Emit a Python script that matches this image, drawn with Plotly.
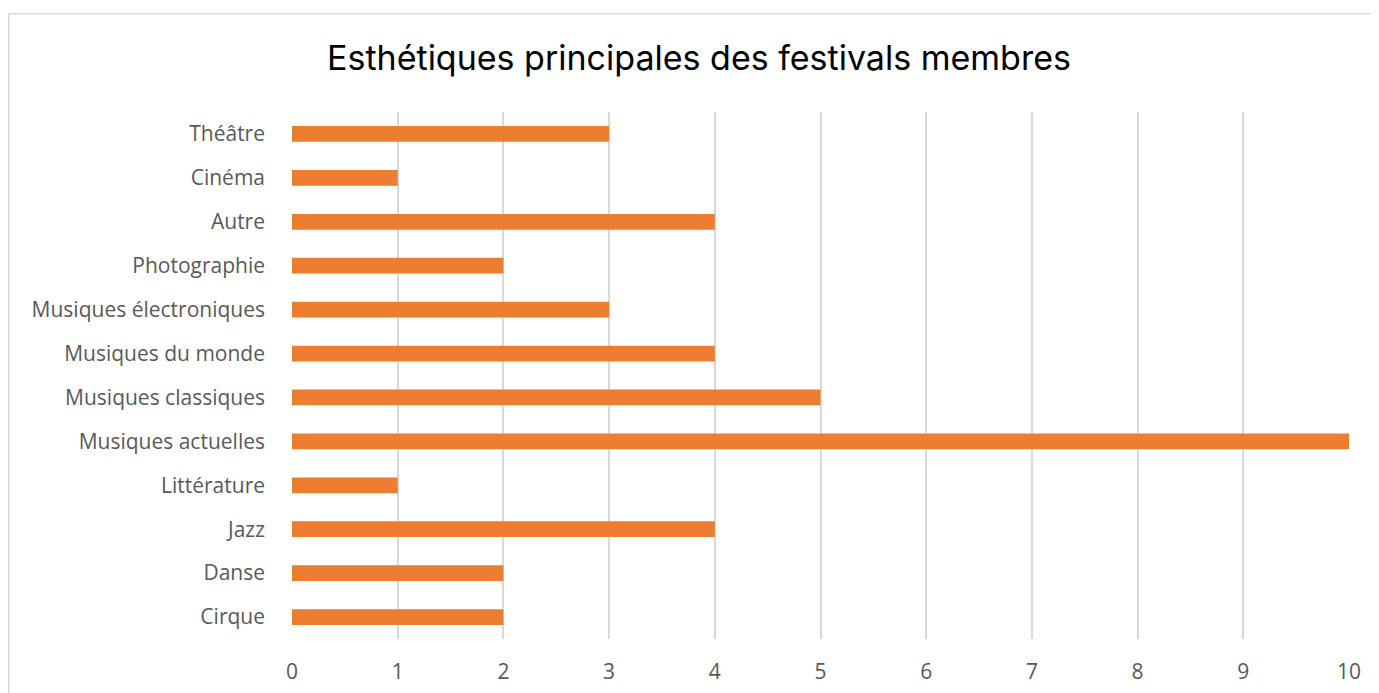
import plotly.graph_objects as go

categories = ["Cirque", "Danse", "Jazz", "Littérature", "Musiques actuelles",
              "Musiques classiques", "Musiques du monde", "Musiques électroniques",
              "Photographie", "Autre", "Cinéma", "Théâtre"]
values = [2, 2, 4, 1, 10, 5, 4, 3, 2, 4, 1, 3]
x_ticks = list(range(0, 11))

# page body has an 8px margin; figure coordinates are screen - 8
W, H = 1371, 685
L, R, T, B = 284, 30, 104, 54
pw, ph = W - L - R, H - T - B

fig = go.Figure(go.Bar(
    x=values, y=categories, orientation="h",
    marker=dict(color="#ED7D31", line=dict(width=0)),
    width=0.36,
))

def px_to_paper_x(px):
    return (px - L) / pw

def px_to_paper_y(py):
    return (H - B - py) / ph

fig.update_layout(
    width=W, height=H,
    margin=dict(l=L, r=R, t=T, b=B, autoexpand=False),
    paper_bgcolor="white", plot_bgcolor="white",
    showlegend=False,
    title=dict(text="Esthétiques principales des festivals membres",
               x=(699 - 8) / W, xanchor="center", y=1 - 50 / H, yanchor="middle",
               font=dict(family="Inter, Roboto, sans-serif", size=34, color="#000000")),
    xaxis=dict(range=[0, 10], tickvals=x_ticks, showgrid=True, gridcolor="#d9d9d9",
               gridwidth=1.5, zeroline=False, showline=False, ticks="",
               tickfont=dict(family="Open Sans, sans-serif", size=21, color="#595959"),
               ticklabelstandoff=18, automargin=False),
    yaxis=dict(categoryorder="array", categoryarray=categories, range=[-0.5, 11.5],
               showgrid=False, zeroline=False, showline=False, ticks="",
               tickfont=dict(family="Open Sans, sans-serif", size=21, color="#595959"),
               ticklabelstandoff=26, automargin=False),
    shapes=[dict(type="rect", xref="paper", yref="paper",
                 x0=px_to_paper_x(0.75), x1=px_to_paper_x(W + 20),
                 y0=px_to_paper_y(H + 20), y1=px_to_paper_y(5.75),
                 line=dict(color="#d9d9d9", width=1.5), fillcolor="rgba(0,0,0,0)",
                 layer="below")],
)

fig.write_html("out.html")
